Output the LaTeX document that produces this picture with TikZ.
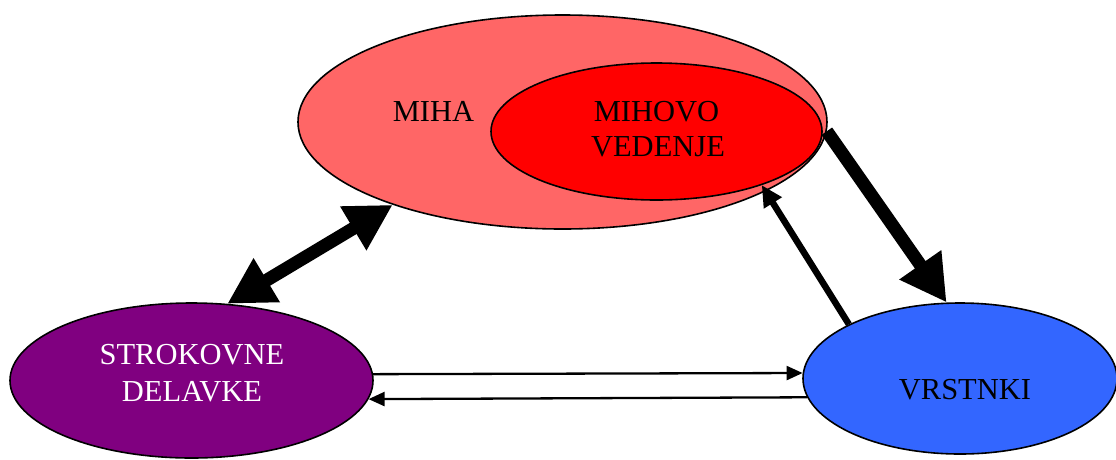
\documentclass[tikz,border=0pt]{standalone}
\usepackage{fontspec}
\setmainfont{Liberation Serif}
\usetikzlibrary{shapes.geometric,arrows.meta}
\definecolor{mihapink}{HTML}{FF6666}
\definecolor{vedred}{HTML}{FF0000}
\definecolor{strokpurple}{HTML}{800080}
\definecolor{vrstblue}{HTML}{3366FF}
\tikzset{
  blob/.style={ellipse, draw=black, line width=1.6pt, inner sep=0pt},
  lbl/.style={anchor=base, inner sep=0pt, font=\fontsize{30.5}{35}\selectfont},
  thickarrow/.style={line width=13pt, -{Triangle[length=46pt,width=48pt]}},
  dblarrow/.style={line width=13pt, {Triangle[length=46pt,width=48pt]}-{Triangle[length=46pt,width=48pt]}},
  medarrow/.style={line width=6.5pt, -{Triangle[length=21pt,width=20pt]}},
  thinarrow/.style={line width=2.3pt, -{Triangle[length=16pt,width=14pt]}}
}
\begin{document}
\begin{tikzpicture}[x=1pt,y=-1pt]
\useasboundingbox (0,0) rectangle (1116,459);
% ellipses
\node[blob, fill=mihapink, minimum width=529pt, minimum height=214pt] (mi) at (562.5,122) {};
\node[blob, fill=vedred, minimum width=331pt, minimum height=137pt] (mv) at (656.5,131.5) {};
\node[blob, fill=strokpurple, minimum width=363pt, minimum height=155pt] (sd) at (191.5,380.5) {};
\node[blob, fill=vrstblue, minimum width=314pt, minimum height=151pt] (vr) at (960,378.5) {};
% labels
\node[lbl] (tmiha) at (433.5,121) {MIHA};
\node[lbl] (tmv1) at (656.5,121) {MIHOVO};
\node[lbl] (tmv2) at (658,156) {VEDENJE};
\node[lbl, text=white] (tsd1) at (192,364) {STROKOVNE};
\node[lbl, text=white] (tsd2) at (192,401) {DELAVKE};
\node[lbl] (tvr) at (965,399) {VRSTNKI};
% connectors
\draw[dblarrow] (sd.65) -- (mi.206.6);
\draw[thickarrow] (mi.-2.6) -- (vr.100.4);
\draw[medarrow] (vr.154.5) -- (mv.-27.6);
\draw[thinarrow] (sd.2) -- (vr.178.4);
\draw[thinarrow] (vr.187.7) -- (sd.-6);
\end{tikzpicture}
\end{document}
